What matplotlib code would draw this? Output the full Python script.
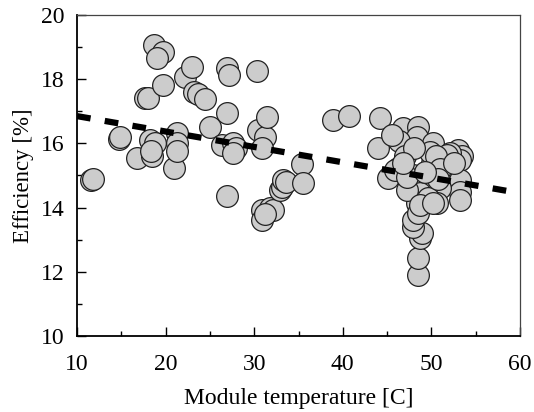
import matplotlib.pyplot as plt
from matplotlib.ticker import MultipleLocator

plt.rcParams['font.family'] = ['Liberation Serif', 'DejaVu Serif']

# module temperature [C] and efficiency [%]
temp = [11.6, 11.8, 14.7, 14.9, 16.8, 17.7, 18.0, 18.2, 18.8, 18.5, 18.4,
        18.7, 19.7, 19.0, 19.7, 21.0, 21.3, 21.3, 21.3,
        22.2, 23.0, 23.2, 23.6, 24.4, 25.0,
        26.4, 26.9, 27.2, 26.9, 27.6, 28.0, 27.6, 26.9,
        30.3, 30.4, 31.2, 30.9, 31.45,
        30.9, 31.8, 32.1, 30.9, 31.2,
        32.9, 33.1, 33.3, 33.6, 35.4, 35.5,
        38.9, 40.7, 44.2, 44.0,
        46.8, 48.5, 48.4, 46.3, 45.5,
        46.2, 45.1, 47.9, 45.9,
        50.1, 50.2, 50.1, 49.8,
        53.0, 53.4, 53.2, 52.1, 51.3, 51.8, 51.8, 52.1, 52.4, 53.2, 53.2,
        51.0, 49.8, 49.05, 48.7, 48.4, 47.25, 47.25, 50.6, 49.6,
        50.5, 51.0, 50.8, 52.6, 49.3, 47.0, 48.0, 46.8,
        48.5, 48.5, 48.7, 48.9, 47.9, 47.9, 48.5, 48.7, 50.2, 53.2]
eff = [14.85, 14.9, 16.15, 16.2, 15.55, 17.4, 17.42, 16.1, 16.0, 15.6, 15.75,
       19.07, 18.85, 18.66, 17.82, 15.23, 16.32, 16.0, 15.75,
       18.07, 18.38, 17.6, 17.55, 17.37, 16.52,
       15.95, 18.35, 18.13, 16.95, 16.0, 15.86, 15.7, 14.36,
       18.26, 16.42, 16.2, 15.86, 16.83,
       13.93, 13.99, 13.93, 13.61, 13.8,
       14.55, 14.64, 14.86, 14.8, 15.35, 14.77,
       16.73, 16.85, 16.78, 15.86,
       16.48, 16.52, 16.2, 16.06, 16.25,
       15.23, 14.92, 15.0, 15.17,
       15.89, 16.0, 15.39, 15.73,
       15.8, 15.6, 15.48, 15.7, 15.55, 15.64, 15.26, 15.0, 14.86, 14.86, 14.48,
       14.6, 14.8, 14.86, 14.45, 14.14, 14.55, 14.95, 14.14, 14.3,
       15.6, 15.2, 14.9, 15.4, 15.1, 15.6, 15.85, 15.4,
       11.9, 12.43, 13.05, 13.2, 13.4, 13.6, 13.83, 14.08, 14.14, 14.24]

# linear trend
trend_x = [10, 60]
trend_y = [16.85, 14.45]

fig = plt.figure(figsize=(5.34, 4.12), dpi=100)
ax = fig.add_axes([0.1442, 0.1845, 0.8296, 0.7791])

ax.scatter(temp, eff, s=245, facecolor='#cccccc', edgecolor='#222222',
           linewidth=0.9, zorder=2)
ax.plot(trend_x, trend_y, color='black', lw=4.5, linestyle=(0, (2.2, 2.3)),
        dash_capstyle='butt', zorder=3)

ax.set_xlim(10, 60)
ax.set_ylim(10, 20)
ax.xaxis.set_major_locator(MultipleLocator(10))
ax.xaxis.set_minor_locator(MultipleLocator(5))
ax.yaxis.set_major_locator(MultipleLocator(2))
ax.yaxis.set_minor_locator(MultipleLocator(1))
ax.tick_params(which='both', direction='in', top=False, right=False,
               labelsize=17, width=1)
ax.tick_params(which='major', length=6.5)
ax.tick_params(which='minor', length=3.5)
ax.tick_params(axis='x', which='major', pad=13)
ax.tick_params(axis='y', which='major', pad=9)

for side in ['left', 'bottom']:
    ax.spines[side].set_linewidth(1.3)
for side in ['top', 'right']:
    ax.spines[side].set_linewidth(0.9)
    ax.spines[side].set_color('#444444')

ax.set_xlabel('Module temperature [C]', fontsize=17, labelpad=9)
ax.set_ylabel('Efficiency [%]', fontsize=16.5, labelpad=5)

fig.savefig('out.png', dpi=100)
